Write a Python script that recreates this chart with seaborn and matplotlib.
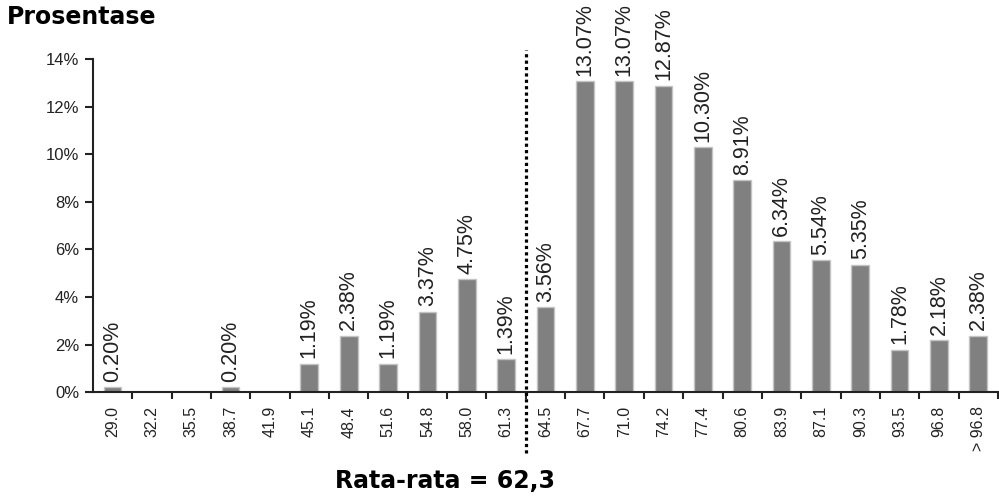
import matplotlib
matplotlib.use("Agg")
import matplotlib.pyplot as plt
import seaborn as sns
import pandas as pd

# Score classes and share of participants (%)
classes = ["29.0", "32.2", "35.5", "38.7", "41.9", "45.1", "48.4", "51.6",
           "54.8", "58.0", "61.3", "64.5", "67.7", "71.0", "74.2", "77.4",
           "80.6", "83.9", "87.1", "90.3", "93.5", "96.8", "> 96.8"]
percent = [0.20, 0, 0, 0.20, 0, 1.19, 2.38, 1.19,
           3.37, 4.75, 1.39, 3.56, 13.07, 13.07, 12.87, 10.30,
           8.91, 6.34, 5.54, 5.35, 1.78, 2.18, 2.38]
y_ticks = [0, 2, 4, 6, 8, 10, 12, 14]
mean_position = 10.5   # between classes 61.3 and 64.5
mean_label = "Rata-rata = 62,3"
y_title = "Prosentase"

df = pd.DataFrame({"kelas": classes, "persen": percent})

sns.set_theme(style="white")
plt.rcParams["font.family"] = ["Liberation Sans", "DejaVu Sans"]
text_color = "#222222"

fig = plt.figure(figsize=(9.99, 4.97), dpi=100)
ax = fig.add_axes([0.093, 0.211, 0.906, 0.670])

sns.barplot(data=df, x="kelas", y="persen", order=classes, color="#808080",
            saturation=1, width=0.45, edgecolor="#c4c4c4", linewidth=1, ax=ax)

# Value labels above the bars (skip empty classes)
for i, v in enumerate(percent):
    if v > 0:
        ax.annotate(f"{v:.2f}%", xy=(i, v), xytext=(0, 4),
                    textcoords="offset points", rotation=90,
                    ha="center", va="bottom", fontsize=15.5,
                    color=text_color, clip_on=False, annotation_clip=False)

# Mean marker
ax.plot([mean_position, mean_position], [-2.54, 14.4], color="black",
        linestyle=(0, (1, 1)), linewidth=2.3, clip_on=False,
        solid_capstyle="butt", dash_capstyle="butt", zorder=5)

ax.set_xlim(-0.5, len(classes) - 0.5)
ax.set_ylim(0, 14)
ax.set_yticks(y_ticks)
ax.set_yticklabels([f"{t}%" for t in y_ticks])
ax.set_xlabel("")
ax.set_ylabel("")

# Category ticks sit on class boundaries; labels stay at bar centres
ax.set_xticks(range(len(classes)))
ax.set_xticklabels(classes, rotation=90, fontsize=11.5, color=text_color)
ax.tick_params(axis="x", length=0, pad=10)
ax.set_xticks([i - 0.5 for i in range(1, len(classes) + 1)], minor=True)
ax.tick_params(axis="x", which="minor", length=5, width=1.5,
               direction="out", color="#222222", bottom=True)
ax.tick_params(axis="y", length=6, width=1.5, direction="out",
               color="#222222", labelsize=12, labelcolor=text_color, pad=4,
               left=True)

for side in ["top", "right"]:
    ax.spines[side].set_visible(False)
for side in ["left", "bottom"]:
    ax.spines[side].set_color("#222222")
    ax.spines[side].set_linewidth(1.5)

fig.text(0.007, 0.965, y_title, fontsize=17, fontweight="bold",
         family="DejaVu Sans", color="black", ha="left", va="center")
fig.text(0.445, 0.032, mean_label, fontsize=17, fontweight="bold",
         family="DejaVu Sans", color="black", ha="center", va="center")

fig.savefig("out.png", dpi=100)
